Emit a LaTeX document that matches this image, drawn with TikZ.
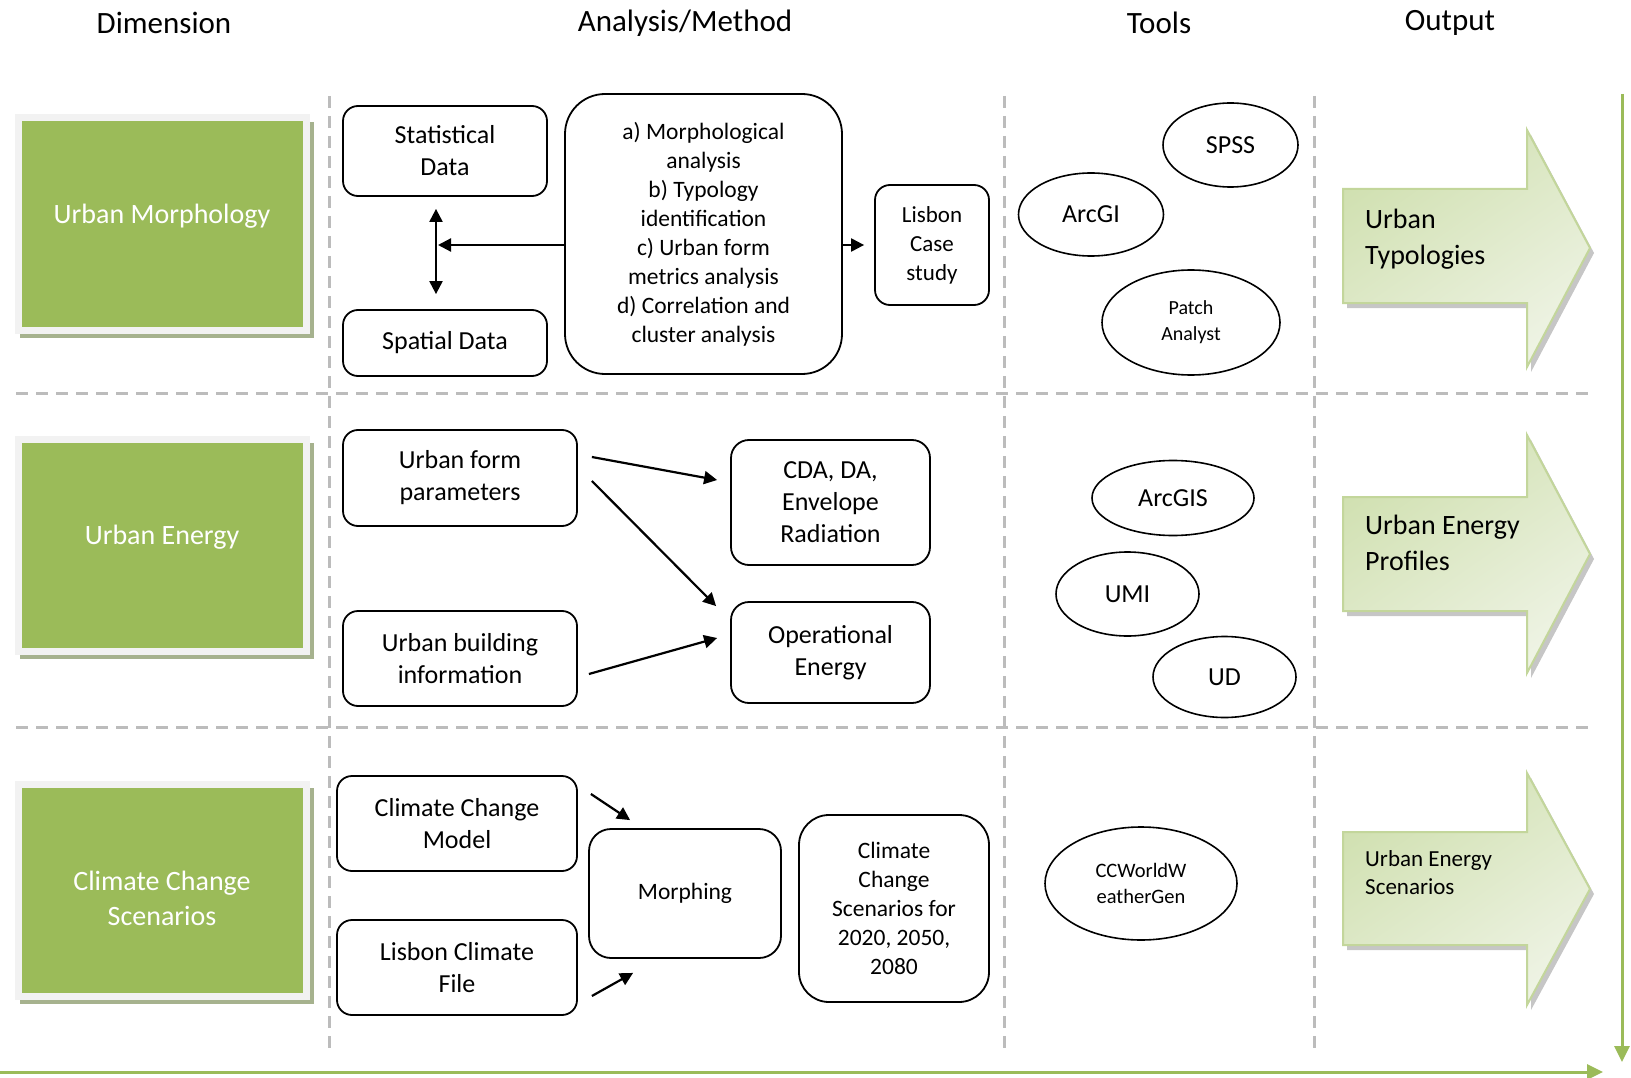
\documentclass[tikz,border=0pt]{standalone}
\usepackage{fontspec}
\setmainfont{Carlito}
\usetikzlibrary{arrows.meta,shapes.geometric,shadows}

\definecolor{dimgreen}{RGB}{155,187,89}
\definecolor{dimframe}{RGB}{242,242,242}
\definecolor{dimshadow}{RGB}{166,178,142}
\definecolor{gridgray}{RGB}{188,188,188}
\definecolor{outdark}{RGB}{208,224,176}
\definecolor{outlight}{RGB}{238,243,228}
\definecolor{outline}{RGB}{195,214,155}

\begin{document}
\begin{tikzpicture}[x=1pt, y=-1pt,
  >={Triangle[length=13pt,width=13pt]},
  box/.style={draw, line width=1.8pt, rounded corners=15pt, align=center,
    inner sep=2pt, font=\fontsize{26}{32}\selectfont},
  tool/.style={draw, ellipse, line width=1.6pt, align=center, inner sep=0pt,
    font=\fontsize{26}{32}\selectfont},
  dim/.style={fill=dimgreen, draw=dimframe, line width=7pt,
    minimum width=288pt, minimum height=212pt,
    general shadow={fill=dimshadow, shadow xshift=5pt, shadow yshift=-6pt, shadow scale=1.02}},
  dimtext/.style={text=white, align=center, font=\fontsize{28}{35}\selectfont},
  head/.style={font=\fontsize{31}{37}\selectfont},
  flow/.style={line width=2.2pt},
  gridline/.style={draw=gridgray, line width=3pt, dash pattern=on 12pt off 8pt},
  timeline/.style={draw=dimgreen, line width=3pt, -{Triangle[length=16pt,width=15pt]}},
  outarrow/.style={draw=outline, line width=2pt, top color=outdark, bottom color=outlight,
    shading angle=35, drop shadow={shadow xshift=4pt, shadow yshift=-5pt, opacity=0.45, fill=black!50}},
  outtext/.style={anchor=west, align=left, inner sep=0pt}]
  \useasboundingbox (0,0) rectangle (1631,1078);

  % grid
  \foreach \x in {329,1004,1314}
    \draw[gridline] (\x,96) -- (\x,1051);
  \foreach \y in {393,727}
    \draw[gridline] (16,\y) -- (1592,\y);
  \draw[timeline] (1622,94) -- (1622,1062);
  \draw[timeline] (0,1072) -- (1603,1072);

  % column titles
  \node[head] (hdim)  at (164,23)  {Dimension};
  \node[head] (hmeth) at (685,23)  {Analysis/Method};
  \node[head] (htool) at (1159,23) {Tools};
  \node[head] (hout)  at (1450,23) {Output};

  % dimensions
  \node[dim, label={[dimtext, yshift=8pt]center:Urban Morphology}] (dmorph) at (162,224) {};
  \node[dim, label={[dimtext, yshift=8pt]center:Urban Energy}] (denergy) at (162,545) {};
  \node[dim, label={[dimtext, yshift=-8pt]center:{Climate Change\\Scenarios}}] (dclim) at (162,890) {};

  % urban morphology
  \node[box, minimum width=204pt, minimum height=90pt] (stat) at (445,151) {Statistical\\Data};
  \node[box, minimum width=204pt, minimum height=66pt] (spat) at (445,343) {Spatial Data};
  \node[box, minimum width=277pt, minimum height=280pt, rounded corners=40pt,
    font=\fontsize{23.5}{29}\selectfont] (method) at (703.5,234)
    {a) Morphological\\analysis\\b) Typology\\identification\\c) Urban form\\metrics analysis\\d) Correlation and\\cluster analysis};
  \node[box, minimum width=114pt, minimum height=120pt,
    font=\fontsize{23}{29}\selectfont] (lisbon) at (932,245) {Lisbon\\Case\\study};
  \coordinate (join) at (438,245);
  \draw[<->, flow] ([xshift=-9pt,yshift=-12pt]stat.south) -- ([xshift=-9pt,yshift=15pt]spat.north);
  \draw[->, flow] (method.west |- lisbon) -- (join);
  \draw[->, flow] (method.east |- lisbon) -- ([xshift=-10pt]lisbon.west);

  % urban energy
  \node[box, minimum width=234pt, minimum height=96pt] (form) at (460,478) {Urban form\\parameters};
  \node[box, minimum width=234pt, minimum height=95pt] (build) at (460,658.5) {Urban building\\information};
  \node[box, minimum width=199pt, minimum height=125pt, rounded corners=18pt] (cda) at (830.5,502.5) {CDA, DA,\\Envelope\\Radiation};
  \node[box, minimum width=199pt, minimum height=101pt, rounded corners=18pt] (oper) at (830.5,652.5) {Operational\\Energy};
  \draw[->, flow] ([xshift=14pt,yshift=21pt]form.east) -- ([xshift=-13pt,yshift=22.5pt]cda.west);
  \draw[->, flow] ([xshift=14pt,yshift=-3pt]form.east) -- ([xshift=-14pt,yshift=-5pt]oper.north west);
  \draw[->, flow] ([xshift=11pt,yshift=-15.5pt]build.east) -- ([xshift=-13pt,yshift=14.5pt]oper.west);

  % climate change
  \node[box, minimum width=240pt, minimum height=95pt] (ccm) at (457,823.5) {Climate Change\\Model};
  \node[box, minimum width=240pt, minimum height=95pt] (lcf) at (457,967.5) {Lisbon Climate\\File};
  \node[box, minimum width=192pt, minimum height=129pt, rounded corners=22pt,
    font=\fontsize{23.5}{29}\selectfont] (morph) at (685,893.5) {Morphing};
  \node[box, minimum width=190pt, minimum height=187pt, rounded corners=30pt,
    font=\fontsize{23.5}{29}\selectfont] (scen) at (894,908.5)
    {Climate\\Change\\Scenarios for\\2020, 2050,\\2080};
  \draw[->, flow] ([xshift=13pt,yshift=29.5pt]ccm.east) -- ([xshift=42pt,yshift=8pt]morph.north west);
  \draw[->, flow] ([xshift=14pt,yshift=-28.5pt]lcf.east) -- ([xshift=45pt,yshift=-14pt]morph.south west);

  % tools
  \node[tool, minimum width=135pt, minimum height=84pt] (spss) at (1230.5,145) {SPSS};
  \node[tool, minimum width=145pt, minimum height=83pt] (arcgi) at (1091,214.5) {ArcGI};
  \node[tool, minimum width=178pt, minimum height=105pt,
    font=\fontsize{20}{26}\selectfont] (patch) at (1191,322.5) {Patch\\Analyst};
  \node[tool, minimum width=162pt, minimum height=75pt] (arcgis) at (1173,498) {ArcGIS};
  \node[tool, minimum width=143pt, minimum height=84pt] (umi) at (1127.5,594) {UMI};
  \node[tool, minimum width=143pt, minimum height=81pt] (ud) at (1224.5,677) {UD};
  \node[tool, minimum width=192pt, minimum height=113pt,
    font=\fontsize{20.5}{26}\selectfont] (ccw) at (1141,883.5) {CCWorldW\\eatherGen};

  % outputs
  \foreach \bt/\bb/\hdt/\hdb/\tp in {189/303/130/367/248, 497/611/435/673/554, 832/945/773/1005/889}
    \path[outarrow] (1343,\bt) -- (1527,\bt) -- (1527,\hdt) -- (1590,\tp)
      -- (1527,\hdb) -- (1527,\bb) -- (1343,\bb) -- cycle;
  \node[outtext, font=\fontsize{28}{36}\selectfont] (otyp)  at (1365,239) {Urban\\Typologies};
  \node[outtext, font=\fontsize{28}{36}\selectfont] (oprof) at (1365,543) {Urban Energy\\Profiles};
  \node[outtext, font=\fontsize{23}{28}\selectfont] (oscen) at (1365,873) {Urban Energy\\Scenarios};
\end{tikzpicture}
\end{document}
